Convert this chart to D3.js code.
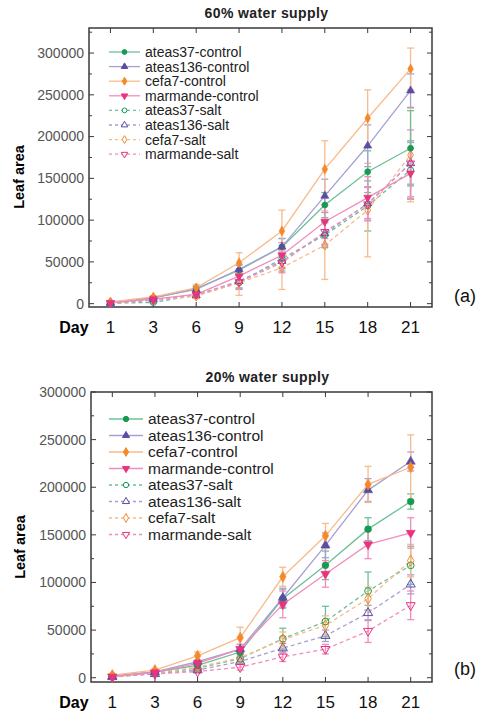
<!DOCTYPE html>
<html><head><meta charset="utf-8">
<script src="https://cdn.jsdelivr.net/npm/d3@7"></script>
<style>body{margin:0;background:#fff}svg{display:block;font-family:"Liberation Sans",Arial,sans-serif}</style>
</head><body><svg id="c" width="478" height="714"></svg>
<script>
const days = ["1","3","6","9","12","15","18","21"];
const seriesNames = ["ateas37-control","ateas136-control","cefa7-control","marmande-control","ateas37-salt","ateas136-salt","cefa7-salt","marmande-salt"];
const yTicks = [0,50000,100000,150000,200000,250000,300000];

// 60% water supply
const w60_ateas37Control  = [1500,7000,18000,40000,68000,118000,158000,186000];
const w60_ateas136Control = [1500,7000,17000,41000,68000,129000,189000,255000];
const w60_cefa7Control    = [2000,8000,19000,49000,87000,161000,222000,281000];
const w60_marmandeControl = [1000,5500,11000,33000,58000,98000,127000,156000];
const w60_ateas37Salt     = [500,1500,10000,25000,54000,82000,117000,160000];
const w60_ateas136Salt    = [500,5000,10000,27000,51000,84000,120000,168000];
const w60_cefa7Salt       = [800,4500,9000,25000,43000,70000,112000,178000];
const w60_marmandeSalt    = [600,4000,11000,26000,49000,86000,119000,168000];
const w60_err_ateas37Control  = [300,1000,3000,6000,10000,15000,25000,45000];
const w60_err_ateas136Control = [300,1000,3000,6000,10000,20000,25000,20000];
const w60_err_cefa7Control    = [500,1500,4000,12000,25000,34000,34000,25000];
const w60_err_marmandeControl = [300,1000,3000,8000,15000,20000,25000,30000];
const w60_err_ateas37Salt     = [200,1000,3000,8000,12000,15000,30000,35000];
const w60_err_ateas136Salt    = [200,1000,3000,8000,12000,15000,20000,25000];
const w60_err_cefa7Salt       = [300,1000,3000,15000,26000,41000,56000,56000];
const w60_err_marmandeSalt    = [200,1000,3000,8000,12000,15000,20000,40000];

// 20% water supply
const w20_ateas37Control  = [1800,6000,13000,27000,83000,118000,156000,185000];
const w20_ateas136Control = [1500,6000,17000,30000,84000,139000,197000,227000];
const w20_cefa7Control    = [2800,8000,23000,42000,106000,149000,203000,221000];
const w20_marmandeControl = [1000,5500,15000,30000,77000,109000,140000,152000];
const w20_ateas37Salt     = [1000,5000,10000,20000,41000,59000,91000,118000];
const w20_ateas136Salt    = [800,4000,8000,17000,31000,44000,68000,98000];
const w20_cefa7Salt       = [1000,5000,11000,21000,40000,55000,83000,123000];
const w20_marmandeSalt    = [800,4000,6500,11000,22000,30000,49000,76000];
const w20_err_ateas37Control  = [300,1000,2000,5000,10000,15000,12000,8000];
const w20_err_ateas136Control = [300,1000,2000,5000,10000,13000,12000,10000];
const w20_err_cefa7Control    = [500,1500,4000,11000,10000,13000,19000,34000];
const w20_err_marmandeControl = [300,1000,2000,5000,14000,14000,15000,16000];
const w20_err_ateas37Salt     = [200,1000,2000,4000,11000,16000,20000,20000];
const w20_err_ateas136Salt    = [200,1000,2000,3000,5000,6000,8000,10000];
const w20_err_cefa7Salt       = [200,1000,2000,4000,8000,10000,12000,17000];
const w20_err_marmandeSalt    = [200,1000,1500,3000,5000,5000,12000,15000];

const markerColors = ["#17994f","#5a4ca3","#f7882a","#e8337f"];
const lineColors   = ["#6cc096","#a6a0d2","#f7bb8c","#f08dbc"];
const symbols = [d3.symbolCircle, d3.symbolTriangle, d3.symbolDiamond, d3.symbolTriangle];

const svg = d3.select("#c");

function panel(cfg, vals, errs) {
  const g = svg.append("g");
  const x = d3.scalePoint().domain(days).range([cfg.left, cfg.right]).padding(0.5);
  const y = d3.scaleLinear().domain(cfg.yDomain).range([cfg.bottom, cfg.top]);

  g.append("rect").attr("x", cfg.left).attr("y", cfg.top)
    .attr("width", cfg.right - cfg.left).attr("height", cfg.bottom - cfg.top)
    .attr("fill", "none").attr("stroke", "#3a3a3a").attr("stroke-width", 1.5);

  const minor = d3.range(0, cfg.yDomain[1] + 1, 25000);
  minor.forEach(v => {
    const len = v % 50000 === 0 ? 5 : 3;
    g.append("line").attr("x1", cfg.left).attr("x2", cfg.left + len).attr("y1", y(v)).attr("y2", y(v)).attr("stroke", "#3a3a3a");
    g.append("line").attr("x1", cfg.right).attr("x2", cfg.right - len).attr("y1", y(v)).attr("y2", y(v)).attr("stroke", "#3a3a3a");
  });
  days.forEach(d => {
    g.append("line").attr("x1", x(d)).attr("x2", x(d)).attr("y1", cfg.top).attr("y2", cfg.top + 5).attr("stroke", "#3a3a3a");
    g.append("line").attr("x1", x(d)).attr("x2", x(d)).attr("y1", cfg.bottom).attr("y2", cfg.bottom - 5).attr("stroke", "#3a3a3a");
  });
  yTicks.forEach(v => {
    g.append("text").attr("x", cfg.left - 5).attr("y", y(v)).attr("dy", "0.35em")
      .attr("text-anchor", "end").attr("font-size", 14).attr("fill", "#555").text(v);
  });
  days.forEach(d => {
    g.append("text").attr("x", x(d)).attr("y", cfg.xLabelY).attr("dy", "0.35em")
      .attr("text-anchor", "middle").attr("font-size", 17).attr("fill", "#111").text(d);
  });
  g.append("text").attr("x", 74).attr("y", cfg.xLabelY).attr("dy", "0.35em")
    .attr("text-anchor", "middle").attr("font-size", 16).attr("font-weight", "bold").text("Day");
  g.append("text").attr("transform", `translate(${cfg.yLabelX},${cfg.yLabelY}) rotate(-90)`)
    .attr("text-anchor", "middle").attr("font-size", 14.5).attr("font-weight", "bold").text("Leaf area");
  g.append("text").attr("x", (cfg.left + cfg.right) / 2 + 6).attr("y", cfg.titleY).attr("dy", "0.35em")
    .attr("text-anchor", "middle").attr("font-size", 14).attr("font-weight", "bold").attr("letter-spacing", 0.4).attr("fill", "#222").text(cfg.title);
  g.append("text").attr("x", 465).attr("y", cfg.tagY).attr("dy", "0.35em")
    .attr("text-anchor", "middle").attr("font-size", 18).attr("fill", "#111").text(cfg.tag);

  const line = d3.line().x((d, i) => x(days[i])).y(d => y(d));
  const order = [4,5,6,7,0,1,2,3];
  order.forEach(s => {
    const c = s % 4, salt = s >= 4;
    vals[s].forEach((v, i) => {
      const e = errs[s][i], cx = x(days[i]);
      const eg = g.append("g").attr("stroke", lineColors[c]).attr("stroke-width", 1.3);
      eg.append("line").attr("x1", cx).attr("x2", cx).attr("y1", y(v - e)).attr("y2", y(v + e));
      eg.append("line").attr("x1", cx - 3.5).attr("x2", cx + 3.5).attr("y1", y(v - e)).attr("y2", y(v - e));
      eg.append("line").attr("x1", cx - 3.5).attr("x2", cx + 3.5).attr("y1", y(v + e)).attr("y2", y(v + e));
    });
    g.append("path").datum(vals[s]).attr("d", line).attr("fill", "none")
      .attr("stroke", lineColors[c]).attr("stroke-width", 1.3)
      .attr("stroke-dasharray", salt ? "4,3" : null);
  });
  order.forEach(s => {
    const c = s % 4, salt = s >= 4;
    vals[s].forEach((v, i) => {
      g.append("path").attr("d", d3.symbol().type(symbols[c]).size(cfg.msize)())
        .attr("transform", `translate(${x(days[i])},${y(v)})${c === 3 ? " rotate(180)" : ""}`)
        .attr("fill", salt ? "#fff" : markerColors[c])
        .attr("fill-opacity", salt ? 0 : 1)
        .attr("stroke", markerColors[c]).attr("stroke-width", salt ? 1 : 0.6);
    });
  });

  seriesNames.forEach((n, s) => {
    const c = s % 4, salt = s >= 4;
    const ly = cfg.legY + s * cfg.legStep;
    g.append("line").attr("x1", 109).attr("x2", cfg.legLineEnd).attr("y1", ly).attr("y2", ly)
      .attr("stroke", lineColors[c]).attr("stroke-width", 1.3).attr("stroke-dasharray", salt ? "3,3" : null);
    g.append("path").attr("d", d3.symbol().type(symbols[c]).size(cfg.lsize)())
      .attr("transform", `translate(${(109 + cfg.legLineEnd) / 2},${ly})${c === 3 ? " rotate(180)" : ""}`)
      .attr("fill", "#fff").attr("fill-opacity", salt ? 1 : 0)
      .attr("stroke", markerColors[c]).attr("stroke-width", 1);
    if (!salt) {
      g.select("path:last-child").attr("fill", markerColors[c]).attr("fill-opacity", 1);
    }
    g.append("text").attr("x", cfg.legLineEnd + 5).attr("y", ly).attr("dy", "0.35em")
      .attr("font-size", cfg.legFont).attr("fill", "#222").text(n);
  });
}

panel({title: "60% water supply", tag: "(a)", left: 89, right: 432, top: 28, bottom: 307,
  yDomain: [-4000, 330000], xLabelY: 327, titleY: 13, tagY: 296, yLabelX: 24, yLabelY: 177,
  msize: 28, lsize: 18, legY: 52, legStep: 14.6, legLineEnd: 140, legFont: 14},
  [w60_ateas37Control, w60_ateas136Control, w60_cefa7Control, w60_marmandeControl, w60_ateas37Salt, w60_ateas136Salt, w60_cefa7Salt, w60_marmandeSalt],
  [w60_err_ateas37Control, w60_err_ateas136Control, w60_err_cefa7Control, w60_err_marmandeControl, w60_err_ateas37Salt, w60_err_ateas136Salt, w60_err_cefa7Salt, w60_err_marmandeSalt]);

panel({title: "20% water supply", tag: "(b)", left: 91, right: 432, top: 392, bottom: 682,
  yDomain: [-4500, 300000], xLabelY: 702, titleY: 377, tagY: 669, yLabelX: 25, yLabelY: 547,
  msize: 36, lsize: 22, legY: 419, legStep: 16.5, legLineEnd: 143, legFont: 15.5},
  [w20_ateas37Control, w20_ateas136Control, w20_cefa7Control, w20_marmandeControl, w20_ateas37Salt, w20_ateas136Salt, w20_cefa7Salt, w20_marmandeSalt],
  [w20_err_ateas37Control, w20_err_ateas136Control, w20_err_cefa7Control, w20_err_marmandeControl, w20_err_ateas37Salt, w20_err_ateas136Salt, w20_err_cefa7Salt, w20_err_marmandeSalt]);
</script></body></html>
